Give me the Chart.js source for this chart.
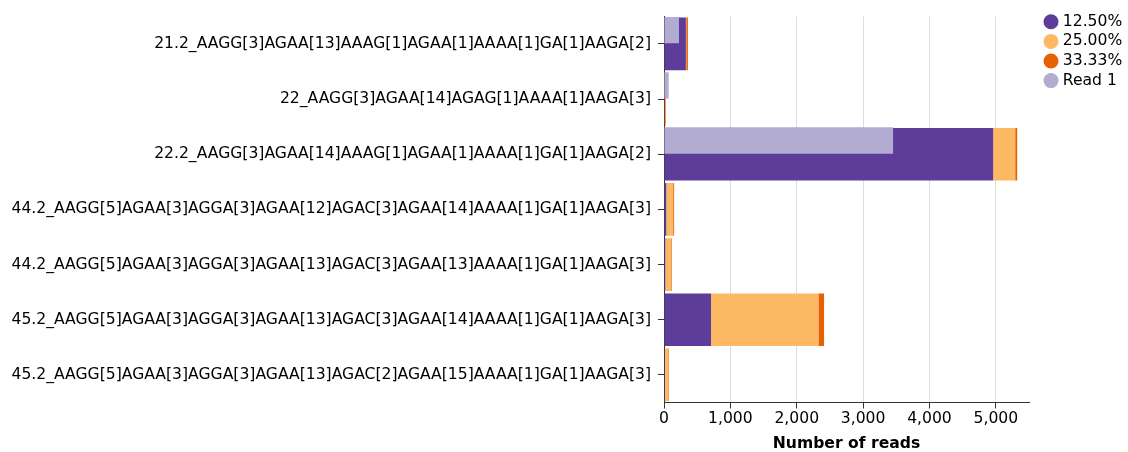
<!DOCTYPE html>
<html>
<head>
<meta charset="utf-8">
<script src="https://cdn.jsdelivr.net/npm/chart.js@4/dist/chart.umd.min.js"></script>
<style>
  html, body { margin: 0; padding: 0; background: #fff; }
  #wrap { width: 1128px; height: 452px; position: relative; }
</style>
</head>
<body>
<div id="wrap"><canvas id="chart1"></canvas></div>
<script>
  "use strict";

  var categories = [
    '21.2_AAGG[3]AGAA[13]AAAG[1]AGAA[1]AAAA[1]GA[1]AAGA[2]',
    '22_AAGG[3]AGAA[14]AGAG[1]AAAA[1]AAGA[3]',
    '22.2_AAGG[3]AGAA[14]AAAG[1]AGAA[1]AAAA[1]GA[1]AAGA[2]',
    '44.2_AAGG[5]AGAA[3]AGGA[3]AGAA[12]AGAC[3]AGAA[14]AAAA[1]GA[1]AAGA[3]',
    '44.2_AAGG[5]AGAA[3]AGGA[3]AGAA[13]AGAC[3]AGAA[13]AAAA[1]GA[1]AAGA[3]',
    '45.2_AAGG[5]AGAA[3]AGGA[3]AGAA[13]AGAC[3]AGAA[14]AAAA[1]GA[1]AAGA[3]',
    '45.2_AAGG[5]AGAA[3]AGGA[3]AGAA[13]AGAC[2]AGAA[15]AAAA[1]GA[1]AAGA[3]'
  ];
  var pct12_50 = [330, 10, 4960, 35, 20, 709, 15];
  var pct25_00 = [5, 0, 332, 103, 86, 1618, 50];
  var pct33_33 = [25, 15, 30, 14, 10, 85, 10];
  var read1 = [226, 70, 3452, 0, 0, 0, 0];
  var xTicks = [0, 1000, 2000, 3000, 4000, 5000];

  // Read 1 sits in the top half of each band: use a hidden axis with two slots per category
  var halfLabels = [];
  var read1Top = [];
  categories.forEach(function (c, i) {
    halfLabels.push(c + ' top', c + ' bottom');
    read1Top.push(read1[i], null);
  });

  var font = "'DejaVu Sans', sans-serif";
  var fontSize = 15.6;
  var axisColor = '#333';

  var ctx = document.getElementById('chart1').getContext('2d');

  var myChart = new Chart(ctx, {
    type: 'bar',
    data: {
      labels: categories,
      datasets: [{
        label: '12.50%',
        data: pct12_50,
        backgroundColor: '#5e3c99',
        yAxisID: 'y',
        order: 1
      },
      {
        label: '25.00%',
        data: pct25_00,
        backgroundColor: '#fdb863',
        yAxisID: 'y',
        order: 1
      },
      {
        label: '33.33%',
        data: pct33_33,
        backgroundColor: '#e66101',
        yAxisID: 'y',
        order: 1
      },
      {
        label: 'Read 1',
        data: read1Top,
        backgroundColor: '#b2abd2',
        yAxisID: 'y2',
        order: 0
      }]
    },
    options: {
      indexAxis: 'y',
      responsive: true,
      maintainAspectRatio: false,
      animation: false,
      datasets: {
        bar: {
          grouped: false,
          barPercentage: 1,
          categoryPercentage: 0.955
        }
      },
      layout: {
        padding: { top: 10, left: 0, right: 1, bottom: 0 }
      },
      plugins: {
        tooltip: { enabled: false },
        legend: {
          position: 'right',
          align: 'start',
          maxWidth: 84,
          labels: {
            color: '#000',
            font: { family: font, size: fontSize },
            usePointStyle: true,
            pointStyle: 'circle',
            boxWidth: 8,
            boxHeight: 10.6,
            padding: 4,
            sort: function (a, b) { return a.datasetIndex - b.datasetIndex; }
          }
        }
      },
      scales: {
        x: {
          stacked: true,
          min: 0,
          max: 5500,
          afterBuildTicks: function (scale) {
            scale.ticks = xTicks.map(function (v) { return { value: v }; });
          },
          ticks: {
            color: '#000',
            padding: 1,
            font: { family: font, size: fontSize },
            callback: function (v) { return v.toLocaleString('en-US'); }
          },
          grid: {
            color: '#ddd',
            tickColor: axisColor,
            tickLength: 6
          },
          border: { display: true, color: axisColor },
          title: {
            display: true,
            text: 'Number of reads',
            color: '#000',
            font: { family: font, size: fontSize, weight: 'bold', lineHeight: 1 },
            padding: { top: 7.2, bottom: 0 }
          }
        },
        y: {
          stacked: true,
          afterFit: function (scale) { scale.width = 664; },
          ticks: {
            color: '#000',
            padding: 7,
            autoSkip: false,
            font: { family: font, size: fontSize }
          },
          grid: {
            offset: false,
            drawOnChartArea: false,
            tickColor: axisColor,
            tickLength: 6
          },
          border: { display: true, color: axisColor }
        },
        y2: {
          type: 'category',
          labels: halfLabels,
          stacked: true,
          display: false,
          offset: true
        },
        // empty spacers: a gap above the plot and between plot and legend
        xTop: {
          type: 'linear',
          position: 'top',
          ticks: { display: false },
          grid: { display: false },
          border: { display: false },
          afterFit: function (scale) { scale.height = 6; }
        },
        yGap: {
          type: 'linear',
          position: 'right',
          ticks: { display: false },
          grid: { display: false },
          border: { display: false },
          afterFit: function (scale) { scale.width = 14; }
        }
      }
    }
  });
</script>
</body>
</html>
